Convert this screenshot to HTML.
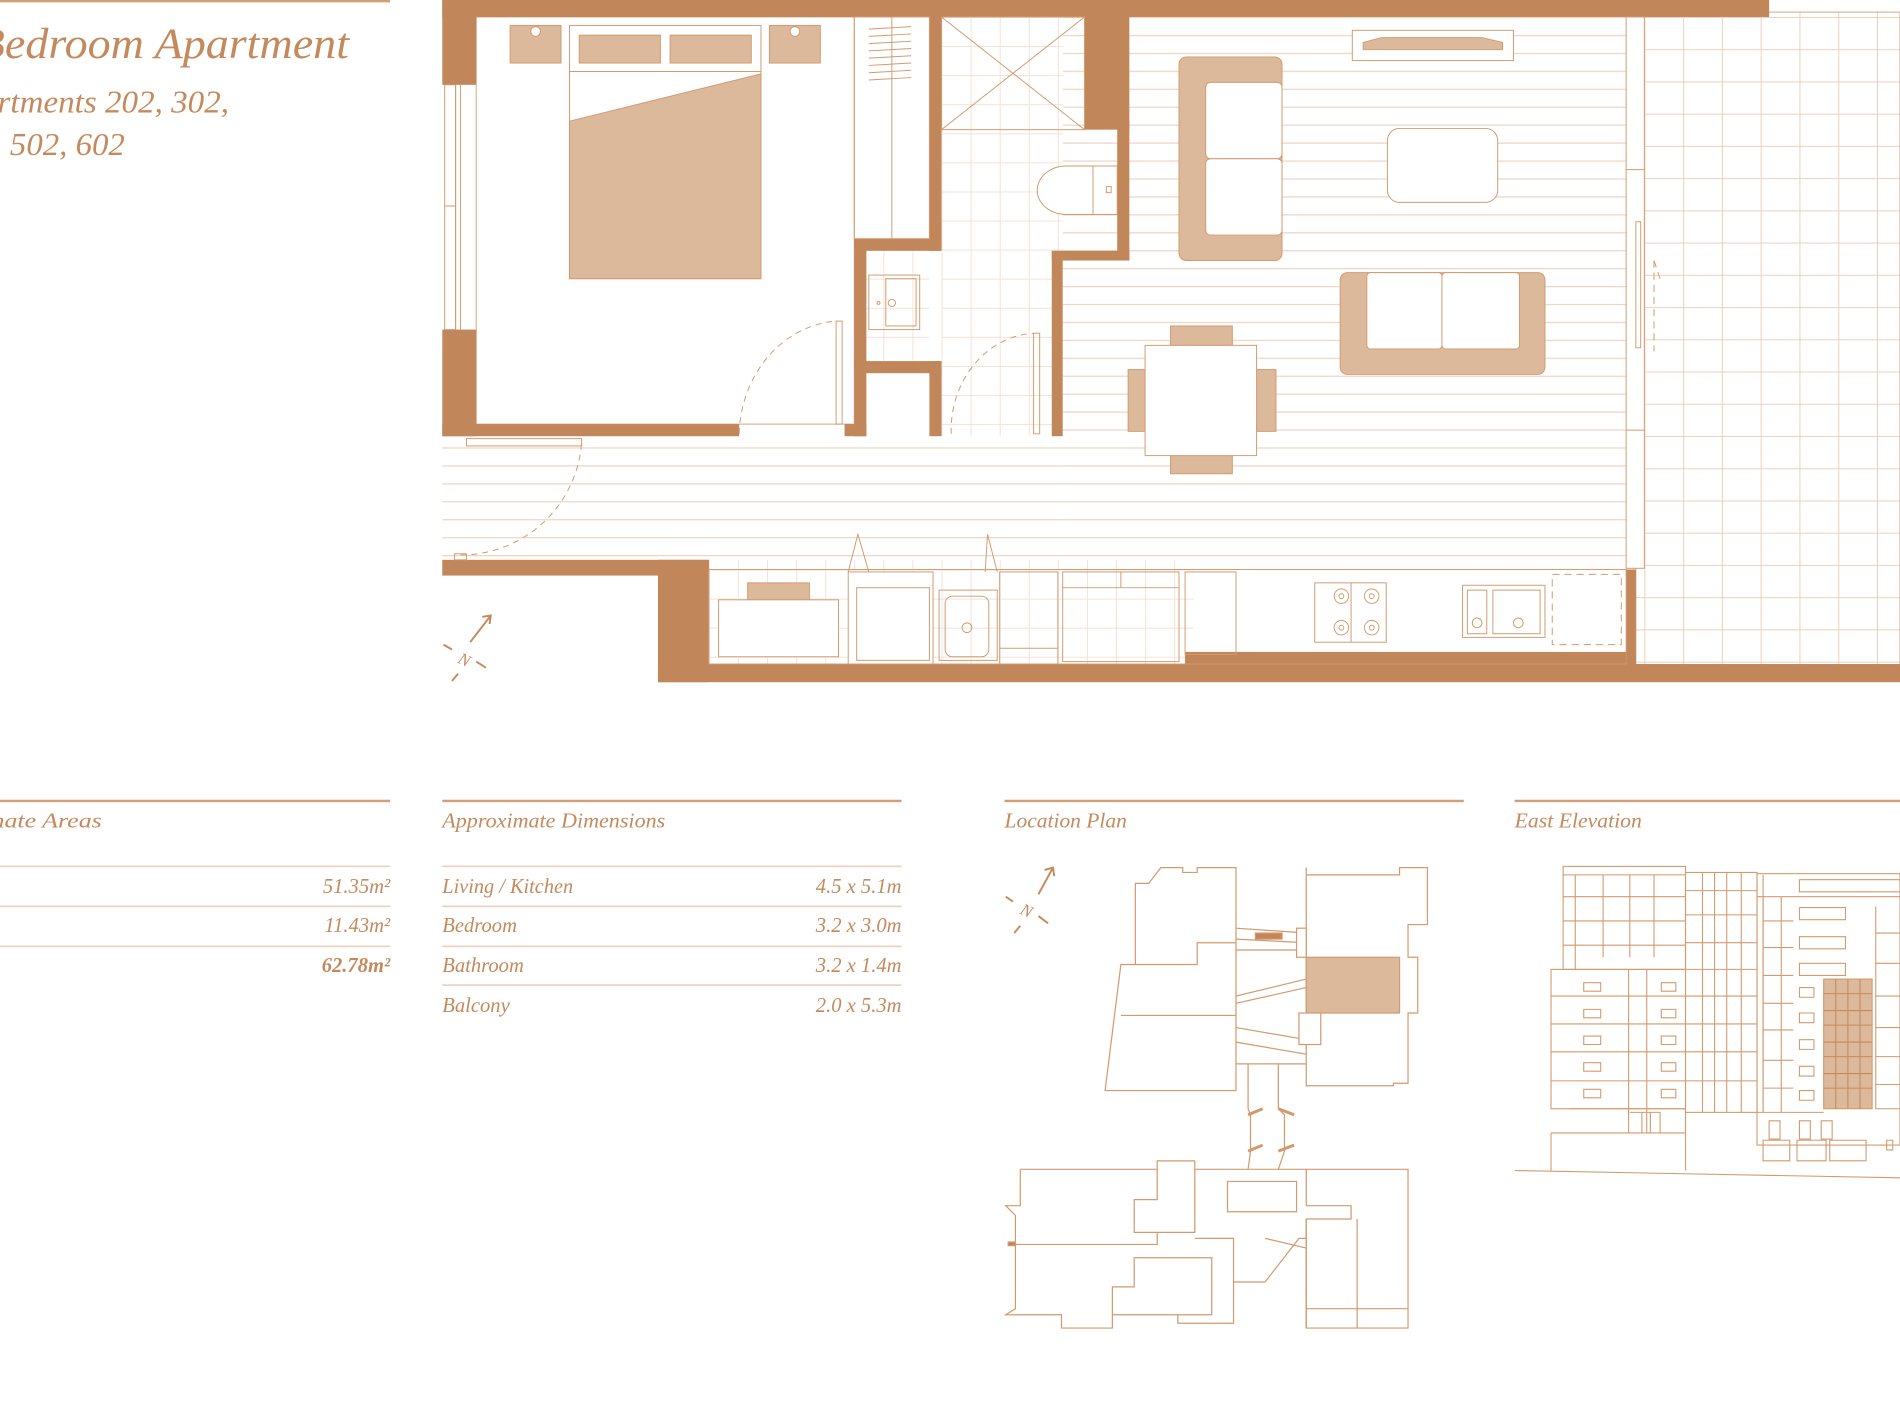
<!DOCTYPE html>
<html><head><meta charset="utf-8">
<style>
html,body{margin:0;padding:0;background:#fff;}
svg{display:block;}
text{font-family:"Liberation Serif",serif;font-style:italic;fill:#C48A5D;}
</style></head>
<body>
<svg width="1900" height="1425" viewBox="0 0 1568 1176" preserveAspectRatio="none" xmlns="http://www.w3.org/2000/svg">
<defs>
<pattern id="fl" x="0" y="14" width="20" height="14.8" patternUnits="userSpaceOnUse">
<rect width="20" height="14.8" fill="#fff"/>
<line x1="0" y1="0.5" x2="20" y2="0.5" stroke="#EBD6C7" stroke-width="1"/>
</pattern>
<pattern id="grid" x="1357" y="14" width="32" height="26.6" patternUnits="userSpaceOnUse">
<rect width="32" height="26.6" fill="#fff"/>
<path d="M0 0.4H32M0.4 0V26.6" stroke="#EBD1BE" stroke-width="0.9"/>
</pattern>
<pattern id="tile" x="777" y="14" width="24" height="24" patternUnits="userSpaceOnUse">
<rect width="24" height="24" fill="#fff"/>
<path d="M0 0.4H24M0.4 0V24" stroke="#F2E3D7" stroke-width="0.8"/>
</pattern>
</defs>

<!-- Title -->
<line x1="0" y1="1" x2="322" y2="1" stroke="#D49D74" stroke-width="2"/>
<text x="-92" y="48" font-size="36" textLength="380" lengthAdjust="spacingAndGlyphs">One Bedroom Apartment</text>
<text x="-46" y="93" font-size="26" textLength="235" lengthAdjust="spacingAndGlyphs">Apartments 202, 302,</text>
<text x="-46" y="128" font-size="26" textLength="149" lengthAdjust="spacingAndGlyphs">402, 502, 602</text>

<!-- FLOOR PLAN -->
<g stroke="#D7A27B" stroke-width="0.8">
<rect x="877" y="14" width="465" height="455" fill="url(#fl)" stroke="none"/>
<rect x="365" y="360" width="512" height="102" fill="url(#fl)" stroke="none"/>
<rect x="585" y="462" width="400" height="86" fill="url(#tile)" stroke="none"/>
<rect x="777" y="14" width="100" height="346" fill="url(#tile)" stroke="none"/>
<rect x="715" y="207" width="52" height="91" fill="url(#tile)" stroke="none"/>
<rect x="1350" y="10" width="218" height="540" fill="url(#grid)" stroke="#D7A27B"/>
<rect x="393" y="14" width="312" height="336" fill="#fff"/>
</g>

<g fill="#C1865A" stroke="none">
<rect x="365" y="0" width="1095" height="14"/>
<rect x="365" y="0" width="28" height="70"/>
<rect x="365" y="272" width="28" height="88"/>
<rect x="365" y="350" width="245" height="10"/>
<rect x="697" y="350" width="18" height="10"/>
<rect x="767" y="0" width="10" height="207"/>
<rect x="705" y="197" width="72" height="10"/>
<rect x="705" y="197" width="10" height="163"/>
<rect x="705" y="298" width="72" height="10"/>
<rect x="767" y="298" width="10" height="62"/>
<rect x="895" y="0" width="37" height="107"/>
<rect x="922" y="100" width="10" height="115"/>
<rect x="868" y="207" width="64" height="8"/>
<rect x="868" y="207" width="9" height="153"/>
<rect x="365" y="462" width="220" height="13"/>
<rect x="543" y="462" width="42" height="101"/>
<rect x="543" y="548" width="1025" height="15"/>
<rect x="978" y="538" width="372" height="12"/>
<rect x="1342" y="470" width="8" height="80"/>
</g>

<g fill="none" stroke="#D29A6E" stroke-width="0.8">
<rect x="367" y="70" width="9" height="202"/><path d="M376 70V272M367 170H376M380 70V272"/>
<rect x="705" y="14" width="62" height="183"/><line x1="736" y1="14" x2="736" y2="197"/>
<path d="M717 24L752 22M717 30L752 28M717 36L752 34M717 42L752 40M717 48L752 46M717 54L752 52M717 60L752 58M717 66L752 64"/>
<rect x="421" y="21" width="42" height="31" fill="#DDB99C"/><circle cx="442" cy="26" r="4" fill="#fff"/>
<rect x="635" y="21" width="42" height="31" fill="#DDB99C"/><circle cx="656" cy="26" r="4" fill="#fff"/>
<rect x="470" y="21" width="158" height="209" fill="#fff"/>
<rect x="478" y="29" width="67" height="23" fill="#DDB99C"/><rect x="553" y="29" width="67" height="23" fill="#DDB99C"/>
<line x1="470" y1="59" x2="628" y2="59"/>
<path d="M470 100L628 61V230H470Z" fill="#DDB99C"/>
<path d="M610 358A86 96 0 0 1 690 265" stroke-dasharray="5 4"/>
<rect x="690" y="265" width="5" height="85"/>
<rect x="717" y="227" width="42" height="45"/><rect x="731" y="230" width="25" height="39"/><circle cx="736" cy="250" r="3"/><circle cx="725" cy="250" r="1.2"/>
<rect x="777" y="14" width="118" height="93"/><path d="M777 14L895 107M895 14L777 107"/>
<path d="M902 137H880A24 20 0 0 0 880 177H902Z" fill="#fff"/><rect x="902" y="137" width="20" height="40" fill="#fff"/><rect x="913" y="154" width="4" height="5"/>
<path d="M785 358A72 80 0 0 1 853 275" stroke-dasharray="5 4"/><rect x="853" y="275" width="5" height="83"/>
<path d="M380 458A100 100 0 0 0 480 365" stroke-dasharray="5 4"/><rect x="385" y="362" width="95" height="6"/><rect x="375" y="457" width="10" height="5"/>
<rect x="1342" y="14" width="15" height="455" fill="#fff"/><path d="M1342 140H1357M1342 355H1357"/><rect x="1350" y="183" width="4" height="104"/>
<path d="M1365 215L1370 230M1365 215V290" stroke-dasharray="6 4"/>
<rect x="1116" y="25" width="133" height="25" fill="#fff"/><path d="M1125 35L1140 31H1223L1240 35V41H1125Z" fill="#DDB99C"/>
<rect x="973" y="47" width="85" height="168" rx="6" fill="#DDB99C"/>
<rect x="995" y="68" width="63" height="63" rx="4" fill="#fff"/><rect x="995" y="131" width="63" height="63" rx="4" fill="#fff"/>
<rect x="1145" y="106" width="91" height="61" rx="10" fill="#fff"/>
<rect x="1106" y="225" width="169" height="84" rx="6" fill="#DDB99C"/>
<rect x="1128" y="225" width="62" height="63" rx="3" fill="#fff"/><rect x="1190" y="225" width="64" height="63" rx="3" fill="#fff"/>
<rect x="966" y="269" width="51" height="16" fill="#DDB99C"/><rect x="966" y="376" width="51" height="15" fill="#DDB99C"/>
<rect x="931" y="305" width="14" height="51" fill="#DDB99C"/><rect x="1037" y="305" width="16" height="51" fill="#DDB99C"/>
<rect x="945" y="285" width="92" height="91" fill="#fff"/>
<rect x="585" y="470" width="757" height="78" fill="none"/>
<rect x="617" y="481" width="51" height="14" fill="#DDB99C"/><rect x="593" y="495" width="99" height="47" fill="#fff"/>
<rect x="700" y="472" width="70" height="76" fill="#fff"/><rect x="707" y="485" width="60" height="60"/><path d="M700 472L708 441L717 472M813 472L815 441L823 472"/>
<rect x="775" y="487" width="48" height="58"/><rect x="780" y="492" width="36" height="50" rx="6"/><circle cx="798" cy="518" r="4"/>
<rect x="825" y="472" width="48" height="76"/><line x1="825" y1="535" x2="873" y2="535"/>
<rect x="877" y="472" width="96" height="74"/><line x1="877" y1="485" x2="973" y2="485"/><line x1="925" y1="472" x2="925" y2="485"/>
<rect x="978" y="472" width="42" height="68"/>
<rect x="1085" y="481" width="59" height="49"/><line x1="1115" y1="481" x2="1115" y2="530"/>
<circle cx="1107" cy="492" r="6"/><circle cx="1132" cy="492" r="6"/><circle cx="1107" cy="518" r="6"/><circle cx="1132" cy="518" r="6"/>
<circle cx="1107" cy="492" r="2"/><circle cx="1132" cy="492" r="2"/><circle cx="1107" cy="518" r="2"/><circle cx="1132" cy="518" r="2"/>
<rect x="1207" y="483" width="68" height="43"/><rect x="1211" y="487" width="16" height="36"/><rect x="1232" y="487" width="39" height="36"/><circle cx="1219" cy="514" r="4"/><circle cx="1253" cy="514" r="4"/>
<rect x="1281" y="474" width="57" height="58" stroke-dasharray="6 4"/>
</g>
<g stroke="#C48A5D" stroke-width="1.6" fill="none">
<path d="M388 530L405 508M398 509L405 508L404 515"/>
<path d="M366 532L373 536M393 546L401 551M378 556L373 562"/>
</g>
<text x="383" y="549" font-size="14" text-anchor="middle" transform="rotate(25 383 545)">N</text>

<g stroke-width="1.5">
<line x1="0" y1="661" x2="322" y2="661" stroke="#D49D74" stroke-width="2"/>
<line x1="0" y1="715" x2="322" y2="715" stroke="#EAD3C3"/>
<line x1="0" y1="748" x2="322" y2="748" stroke="#EAD3C3"/>
<line x1="0" y1="781" x2="322" y2="781" stroke="#EAD3C3"/>
<line x1="365" y1="661" x2="744" y2="661" stroke="#D49D74" stroke-width="2"/>
<line x1="365" y1="715" x2="744" y2="715" stroke="#EAD3C3"/>
<line x1="365" y1="748" x2="744" y2="748" stroke="#EAD3C3"/>
<line x1="365" y1="781" x2="744" y2="781" stroke="#EAD3C3"/>
<line x1="365" y1="813" x2="744" y2="813" stroke="#EAD3C3"/>
<line x1="829" y1="661" x2="1208" y2="661" stroke="#D49D74" stroke-width="2"/>
<line x1="1250" y1="661" x2="1568" y2="661" stroke="#D49D74" stroke-width="2"/>
</g>
<g font-size="17">
<text x="-80" y="683" textLength="164" lengthAdjust="spacingAndGlyphs">Approximate Areas</text>
<text x="322" y="737" text-anchor="end">51.35m²</text>
<text x="322" y="769" text-anchor="end">11.43m²</text>
<text x="322" y="802" text-anchor="end" font-weight="bold">62.78m²</text>
<text x="365" y="683" textLength="184" lengthAdjust="spacingAndGlyphs">Approximate Dimensions</text>
<text x="365" y="737" textLength="108" lengthAdjust="spacingAndGlyphs">Living / Kitchen</text><text x="744" y="737" text-anchor="end">4.5 x 5.1m</text>
<text x="365" y="769">Bedroom</text><text x="744" y="769" text-anchor="end">3.2 x 3.0m</text>
<text x="365" y="802">Bathroom</text><text x="744" y="802" text-anchor="end">3.2 x 1.4m</text>
<text x="365" y="835">Balcony</text><text x="744" y="835" text-anchor="end">2.0 x 5.3m</text>
<text x="829" y="683" textLength="101" lengthAdjust="spacingAndGlyphs">Location Plan</text>
<text x="1250" y="683" textLength="105" lengthAdjust="spacingAndGlyphs">East Elevation</text>
</g>

<g fill="none" stroke="#D29A6E" stroke-width="1">
<path d="M948 729L958 716H976V720H988V716H1020V900H912L925 796H937V729Z"/>
<path d="M937 796H988V778H1020M925 838H1020"/>
<path d="M1078 716V722H1155V716H1178V763H1162V790H1170V836H1162V894H1150V896H1078Z"/>
<rect x="1078" y="790" width="77" height="46" fill="#DDB99C"/>
<path d="M1020 766L1078 770M1020 775L1078 778M1020 784H1078M1020 822L1078 808M1020 828L1078 815M1020 848L1078 858M1020 878H1078M1020 860L1078 870"/>
<rect x="1036" y="770" width="22" height="5" fill="#C1865A"/>
<rect x="1072" y="836" width="18" height="26" fill="#fff"/><rect x="1070" y="766" width="8" height="24" fill="#fff"/>
<path d="M1030 878V915L1032 920V950L1030 965M1055 878V915L1060 920V950L1055 965"/>
<path d="M1030 920L1042 915M1030 950L1042 945M1055 915L1068 920M1055 950L1068 945" stroke-width="2.5"/>
<path d="M842 965H955V958H986V965H1162V1096H1078V1006L1115 1006V995H1078V965M842 965V995H830L838 1003V1080L830 1085H876V1096H918V1085H972V1092H1018V1058H1044L1072 1022L1078 1022"/>
<path d="M838 1027H955V1017H936V990H955V965M986 965V1017H936M986 1022H1018V1058M1013 975H1070V1000H1013Z"/>
<path d="M918 1085V1062H936V1038H1000V1085H972"/>
<path d="M1078 1006V1096M1120 1006V1096M1078 1080H1162M1044 1022L1078 1030"/>
<rect x="832" y="1025" width="6" height="3" fill="#C1865A"/>
</g>
<g stroke="#C48A5D" stroke-width="1.6" fill="none">
<path d="M857 738L869 716M862 718L869 716L870 723"/>
<path d="M830 740L836 744M857 756L865 762M842 764L837 770"/>
</g>
<text x="847" y="756" font-size="14" text-anchor="middle" transform="rotate(25 847 752)">N</text>

<g fill="none" stroke="#D29A6E" stroke-width="0.9">
<path d="M1250 966L1568 972"/>
<rect x="1290" y="715" width="101" height="85"/>
<path d="M1290 722H1391M1300 722V800M1323 722V790M1345 722V790M1365 722V790M1290 740H1391M1290 760H1391M1290 780H1391"/>
<rect x="1280" y="800" width="111" height="115"/>
<path d="M1280 822H1391M1280 845H1391M1280 868H1391M1280 892H1391M1344 800V935M1359 800V935"/>
<path d="M1307 811h14v7h-14zM1307 833h14v7h-14zM1307 855h14v7h-14zM1307 877h14v7h-14zM1307 899h14v7h-14zM1371 811h12v7h-12zM1371 833h12v7h-12zM1371 855h12v7h-12zM1371 877h12v7h-12zM1371 899h12v7h-12z"/>
<path d="M1295 915H1391V935M1280 935H1391V966M1280 935V966M1345 918H1370V935M1355 918V935M1362 918V935"/>
<rect x="1391" y="720" width="59" height="198"/>
<path d="M1391 735H1450M1391 755H1450M1391 778H1450M1391 800H1450M1391 822H1450M1391 845H1450M1391 868H1450M1391 892H1450M1405 720V918M1415 720V918M1425 720V918M1437 720V918"/>
<rect x="1450" y="721" width="118" height="224"/>
<path d="M1450 740H1568M1450 918H1505M1455 722V918H1480"/>
<path d="M1485 726h83v10h-83zM1485 749h38v10h-38zM1485 773h38v10h-38zM1485 795h38v10h-38zM1485 815h12v8h-12zM1485 836h12v8h-12zM1485 858h12v8h-12zM1485 880h12v8h-12zM1485 900h12v8h-12z"/>
<path d="M1455 740V918M1470 740V918M1455 760H1480M1455 782H1480M1455 805H1480M1455 828H1480M1455 850H1480M1455 875H1480M1455 898H1480"/>
<path d="M1548 748V915H1568M1548 770H1568M1548 795H1568M1548 822H1568M1548 848H1568M1548 872H1568M1548 895H1568"/>
<path d="M1460 925h9v15h-9zM1485 925h9v15h-9zM1503 925h9v15h-9zM1455 941h22v17h-22zM1483 941h24v17h-24zM1510 941h30v17h-30zM1557 941h5v8h-5z"/>
<rect x="1505" y="808" width="40" height="107" fill="#DDB99C"/>
<path d="M1505 820H1545M1505 834H1545M1505 846H1545M1505 860H1545M1505 872H1545M1505 886H1545M1505 898H1545M1515 808V915M1525 808V915M1535 808V915" stroke="#C48A5D"/>
</g>
</svg>
</body></html>
